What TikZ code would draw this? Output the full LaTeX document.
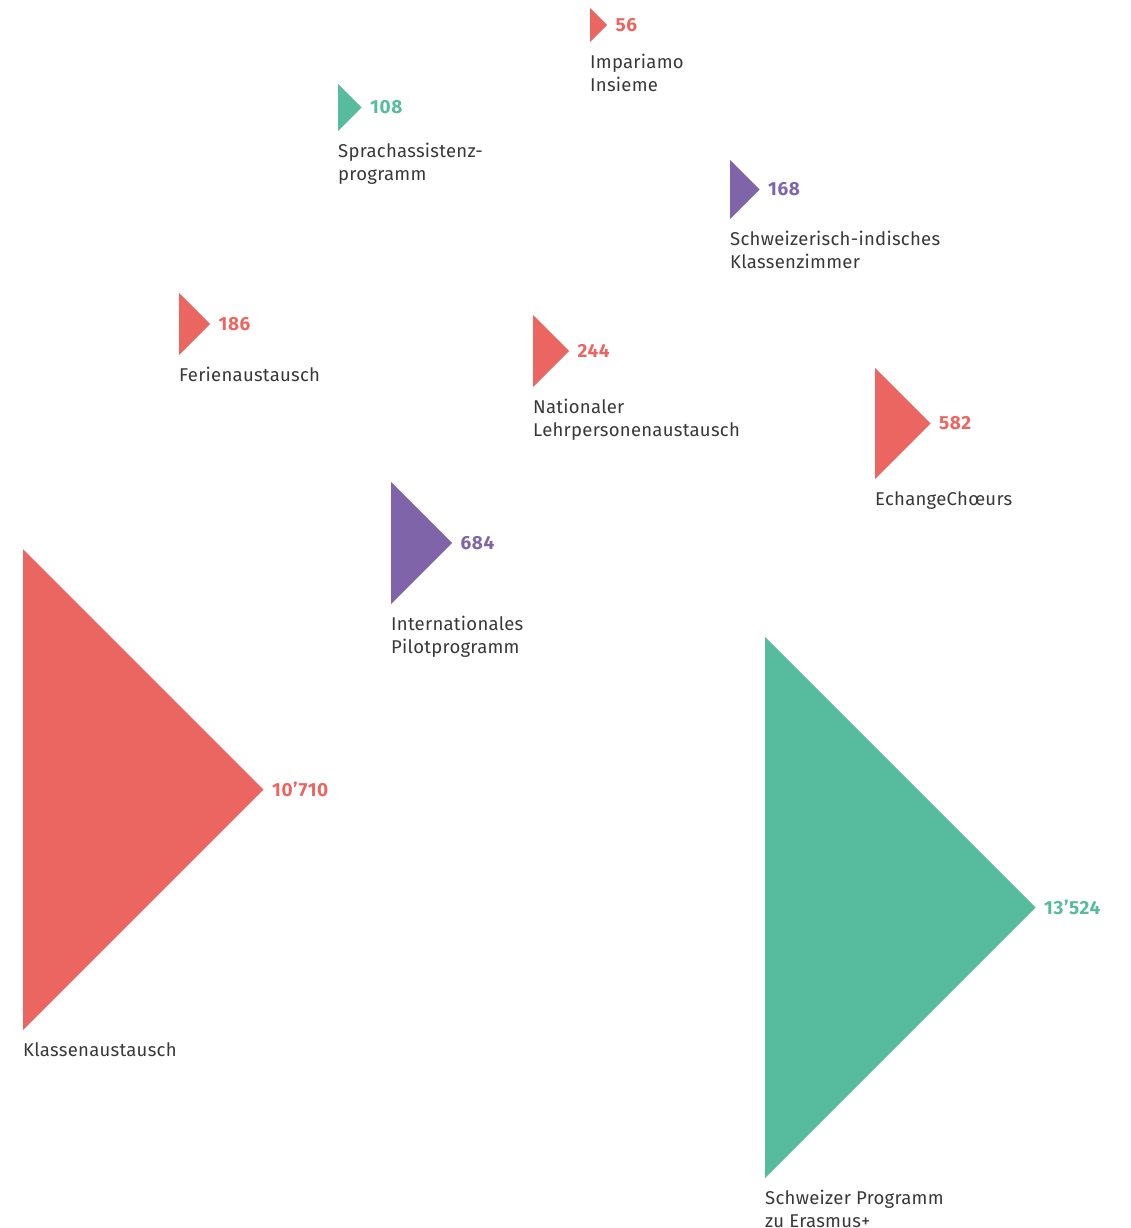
\documentclass[tikz,border=0pt]{standalone}
\usepackage{fontspec}
\setmainfont{Fira Sans}
\usetikzlibrary{positioning}

\definecolor{progred}{HTML}{EC6661}
\definecolor{proggreen}{HTML}{57BB9D}
\definecolor{progviolet}{HTML}{8064AA}
\definecolor{labelgray}{HTML}{383838}

\begin{document}
\begin{tikzpicture}[
    x=1pt, y=-1pt, % pixel grid, y pointing down
    count/.style={text=#1, font=\fontsize{19}{20}\selectfont\bfseries\addfontfeatures{LetterSpace=3}, inner sep=0pt}, % participant number
    caption/.style={text=labelgray, font=\fontsize{18.5}{22.5}\selectfont\addfontfeatures{LetterSpace=1.5}, inner sep=0pt, align=left} % programme name
]
    \useasboundingbox (0,0) rectangle (1130,1228);

    % one wedge per programme: name / left x / top y / height / colour / number / caption
    \foreach \name/\lx/\ty/\h/\col/\num/\txt in {
        imp/590/8/34/progred/56/{Impariamo\\Insieme},
        spr/338/84/47/proggreen/108/{Sprachassistenz-\\programm},
        ind/730/160/59/progviolet/168/{Schweizerisch-indisches\\Klassenzimmer},
        fer/179/293/62/progred/186/{Ferienaustausch},
        nat/533/315/72/progred/244/{Nationaler\\Lehrpersonenaustausch},
        ech/875/368/111/progred/582/{EchangeChœurs},
        int/391/482/122/progviolet/684/{Internationales\\Pilotprogramm},
        kla/23/549/481/progred/10’710/{Klassenaustausch},
        era/765/637/541/proggreen/13’524/{Schweizer Programm\\zu Erasmus+}} {
        \coordinate (\name-top) at (\lx, \ty);
        \coordinate (\name-bot) at (\lx, \ty+\h);
        \coordinate (\name-tip) at (\lx+\h/2, \ty+\h/2);
        \fill[\col] (\name-top) -- (\name-tip) -- (\name-bot) -- cycle; % wedge
        \node[count=\col, right=8.5pt of \name-tip] (\name-num) {\num};
        \node[caption, below right=12pt and 0pt of \name-bot] (\name-txt) {\txt};
    }
\end{tikzpicture}
\end{document}
